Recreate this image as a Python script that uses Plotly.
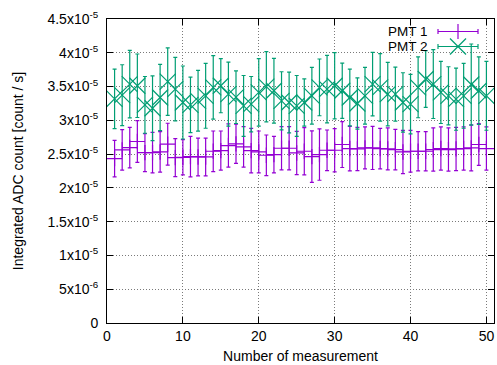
import plotly.graph_objects as go

# ---- data ----
measurement = list(range(1, 51))

pmt1 = [2.433, 2.562, 2.597, 2.687, 2.522, 2.522, 2.532, 2.647, 2.448, 2.453,
        2.463, 2.458, 2.458, 2.542, 2.552, 2.627, 2.652, 2.607, 2.552, 2.532,
        2.483, 2.493, 2.587, 2.587, 2.517, 2.542, 2.463, 2.493, 2.557, 2.557,
        2.642, 2.582, 2.577, 2.592, 2.592, 2.582, 2.577, 2.567, 2.532, 2.542,
        2.542, 2.542, 2.567, 2.582, 2.567, 2.577, 2.582, 2.592, 2.642, 2.582]
pmt1_err = [0.27, 0.30, 0.30, 0.31, 0.28, 0.30, 0.30, 0.31, 0.28, 0.26,
            0.30, 0.28, 0.28, 0.30, 0.29, 0.32, 0.29, 0.30, 0.33, 0.31,
            0.30, 0.27, 0.32, 0.32, 0.32, 0.35, 0.38, 0.38, 0.30, 0.32,
            0.34, 0.33, 0.32, 0.31, 0.32, 0.30, 0.31, 0.30, 0.32, 0.31,
            0.29, 0.29, 0.32, 0.32, 0.32, 0.32, 0.32, 0.34, 0.31, 0.32]

pmt2 = [3.318, 3.373, 3.537, 3.512, 3.229, 3.179, 3.338, 3.572, 3.463, 3.264,
        3.229, 3.289, 3.363, 3.488, 3.512, 3.388, 3.343, 3.214, 3.239, 3.413,
        3.498, 3.438, 3.289, 3.264, 3.214, 3.264, 3.363, 3.488, 3.463, 3.512,
        3.438, 3.338, 3.249, 3.363, 3.537, 3.488, 3.388, 3.388, 3.264, 3.239,
        3.488, 3.612, 3.537, 3.413, 3.363, 3.313, 3.363, 3.530, 3.438, 3.363]
pmt2_err = [0.44, 0.45, 0.50, 0.47, 0.42, 0.48, 0.49, 0.50, 0.47, 0.54,
            0.41, 0.45, 0.48, 0.47, 0.40, 0.475, 0.39, 0.45, 0.41, 0.50,
            0.52, 0.48, 0.43, 0.45, 0.45, 0.35, 0.42, 0.42, 0.50, 0.49,
            0.41, 0.42, 0.38, 0.42, 0.47, 0.50, 0.47, 0.40, 0.44, 0.44,
            0.45, 0.42, 0.51, 0.46, 0.43, 0.46, 0.48, 0.60, 0.50, 0.51]

scale = 1e-5
series_names = ["PMT 1", "PMT 2"]
y_ticks = [0, 0.5, 1, 1.5, 2, 2.5, 3, 3.5, 4, 4.5]
y_ticktext = ["0", "5x10<sup>-6</sup>", "1x10<sup>-5</sup>", "1.5x10<sup>-5</sup>",
              "2x10<sup>-5</sup>", "2.5x10<sup>-5</sup>", "3x10<sup>-5</sup>",
              "3.5x10<sup>-5</sup>", "4x10<sup>-5</sup>", "4.5x10<sup>-5</sup>"]
x_ticks = [0, 10, 20, 30, 40, 50]

# ---- styles ----
PURPLE = "#9400d3"
GREEN = "#009e73"
FONT = "Liberation Sans, Arial, Helvetica, sans-serif"

fig = go.Figure()
fig.add_trace(go.Scatter(
    x=measurement, y=[v * scale for v in pmt1], mode="markers", name=series_names[0],
    marker=dict(symbol="cross-thin", size=11, color=PURPLE, line=dict(color=PURPLE, width=1.2)),
    error_y=dict(type="data", array=[e * scale for e in pmt1_err], color=PURPLE, thickness=1.2, width=2),
    showlegend=False))
fig.add_trace(go.Scatter(
    x=measurement, y=[v * scale for v in pmt2], mode="markers", name=series_names[1],
    marker=dict(symbol="x-thin", size=16, color=GREEN, line=dict(color=GREEN, width=1.2)),
    error_y=dict(type="data", array=[e * scale for e in pmt2_err], color=GREEN, thickness=1.2, width=2),
    showlegend=False))

# ---- custom gnuplot-like key (text right, sample left-to-right) ----
L, R, T, B = 107, 3, 19, 42
W, H = 497, 365
pw, ph = W - L - R, H - T - B

def px(xp):
    return (xp - L) / pw

def py(yp):
    return (H - B - yp) / ph

shapes = []
annotations = []
rows = [(series_names[0], PURPLE, "plus", 31.5), (series_names[1], GREEN, "x", 46.5)]
for name, col, kind, yrow in rows:
    annotations.append(dict(x=px(429), y=py(yrow), xref="paper", yref="paper",
                            text=name, showarrow=False, xanchor="right", yanchor="middle",
                            height=13, borderpad=0,
                            font=dict(family=FONT, size=13.5, color="black")))
    x0, x1 = 438, 478
    shapes.append(dict(type="line", xref="paper", yref="paper", x0=px(x0), x1=px(x1),
                       y0=py(yrow), y1=py(yrow), line=dict(color=col, width=1.2)))
    for xe in (x0, x1):
        shapes.append(dict(type="line", xref="paper", yref="paper", x0=px(xe), x1=px(xe),
                           y0=py(yrow - 2.5), y1=py(yrow + 2.5), line=dict(color=col, width=1.2)))
    xc = (x0 + x1) / 2
    if kind == "plus":
        shapes.append(dict(type="line", xref="paper", yref="paper", x0=px(xc), x1=px(xc),
                           y0=py(yrow - 7.5), y1=py(yrow + 7.5), line=dict(color=col, width=1.2)))
    else:
        for s in (1, -1):
            shapes.append(dict(type="line", xref="paper", yref="paper", x0=px(xc - 8), x1=px(xc + 8),
                               y0=py(yrow - 8 * s), y1=py(yrow + 8 * s), line=dict(color=col, width=1.2)))

axis_common = dict(showline=True, linecolor="black", linewidth=1, mirror="allticks",
                   ticks="inside", ticklen=6, tickcolor="black", tickwidth=1,
                   showgrid=True, gridcolor="#7a7a7a", griddash="1px,2px", gridwidth=1,
                   zeroline=False, tickfont=dict(family=FONT, size=14, color="black"))

fig.update_layout(
    width=W, height=H, margin=dict(l=L, r=R, t=T, b=B, pad=0),
    plot_bgcolor="white", paper_bgcolor="white",
    font=dict(family=FONT, size=14, color="black"),
    xaxis=dict(range=[0, 51], tickvals=x_ticks,
               title=dict(text="Number of measurement", font=dict(family=FONT, size=14), standoff=8),
               **axis_common),
    yaxis=dict(range=[0, 4.5 * scale], tickvals=[t * scale for t in y_ticks], ticktext=y_ticktext,
               ticklabelstandoff=5,
               title=dict(text="Integrated ADC count [count / s]", font=dict(family=FONT, size=14), standoff=20),
               **axis_common),
    shapes=shapes, annotations=annotations,
)

fig.write_html("out.html")
